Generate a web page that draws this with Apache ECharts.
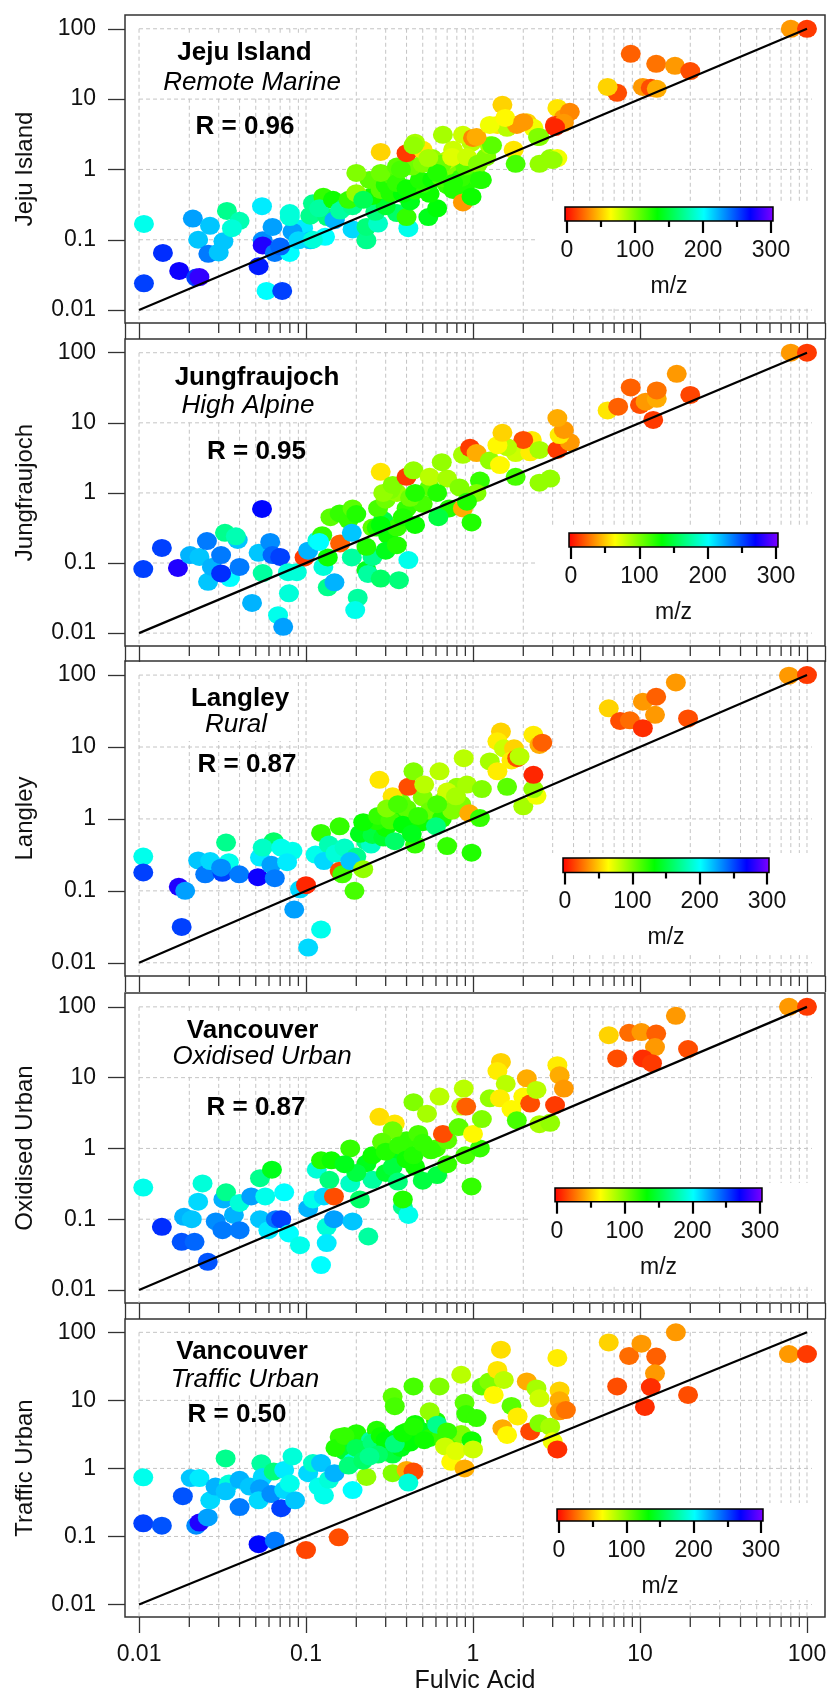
<!DOCTYPE html>
<html><head><meta charset="utf-8">
<script src="https://cdn.jsdelivr.net/npm/echarts@6/dist/echarts.min.js"></script>
<style>html,body{margin:0;padding:0;background:#fff}#chart{width:832px;height:1695px}</style>
</head><body><div id="chart"></div>
<script>
// ---------------- DATA: [Fulvic Acid, site value, m/z] ----------------
const jejuPoints = [
[0.0107,0.168,195],[0.0107,0.024,250],[0.0139,0.065,255],[0.0174,0.036,270],[0.022,0.029,250],[0.023,0.0295,280],
[0.021,0.2,225],[0.0266,0.158,215],[0.0226,0.1,215],[0.026,0.063,235],[0.03,0.066,215],[0.032,0.095,215],
[0.0336,0.257,170],[0.04,0.186,180],[0.036,0.146,190],[0.0545,0.30,205],[0.055,0.098,230],[0.055,0.083,275],
[0.052,0.042,260],[0.063,0.152,225],[0.065,0.065,235],[0.058,0.0187,200],[0.072,0.0187,250],[0.08,0.24,190],
[0.086,0.126,225],[0.08,0.065,200],[0.096,0.146,205],[0.106,0.098,215],[0.11,0.33,170],[0.13,0.11,200],
[0.149,0.2,215],[0.19,0.14,210],[0.23,0.098,170],[0.41,0.146,195],[0.127,0.41,120],
[0.083,0.13,225],[0.07,0.08,240],[0.09,0.098,210],[0.11,0.1,190],[0.08,0.21,190],
[0.106,0.22,170],[0.134,0.21,165],[0.148,0.19,220],[0.23,0.152,165],[0.27,0.17,185],[0.35,0.24,160],
[0.4,0.21,120],[0.54,0.21,140],[0.61,0.28,135],[0.12,0.28,175],[0.145,0.37,130],[0.17,0.29,160],
[0.16,0.26,175],[0.19,0.3,170],[0.26,0.25,165],[0.3,0.3,145],[0.42,0.35,140],[0.25,0.42,130],
[0.18,0.37,120],[0.2,0.46,95],[0.22,0.37,155],[0.24,0.71,110],[0.28,0.51,110],[0.32,0.46,125],
[0.38,0.45,135],[0.45,0.5,125],[0.55,0.45,130],[0.3,0.6,125],[0.33,0.8,115],[0.5,0.62,120],
[0.35,0.64,120],[0.4,0.54,130],[0.48,0.71,125],[0.57,0.71,130],[0.7,0.6,120],[0.76,0.51,125],
[0.65,0.75,115],[0.9,0.6,125],[0.8,0.95,100],
[0.87,0.34,40],[0.98,0.41,130],[1.13,0.71,125],[1.06,0.78,120],[0.85,0.76,120],[0.2,0.89,100],
[0.28,0.89,105],[0.43,1.1,105],[0.35,1.1,110],[0.61,0.98,115],[0.7,1.36,85],[0.57,1.45,95],
[0.5,1.2,100],[0.65,1.2,105],[0.9,1.1,110],[1.2,1.5,100],
[0.76,1.9,80],[0.98,2.4,85],[1.26,2.2,90],[0.61,0.89,125],[0.76,0.64,125],[0.37,1.0,115],
[0.28,1.77,55],[0.4,1.7,15],[0.5,1.9,60],[0.45,2.4,90],[0.66,3.1,90],[0.87,3.1,80],[1.0,2.8,35],
[0.44,2.2,95],[0.54,1.45,90],[0.75,1.5,75],[0.92,1.5,80],[1.07,1.2,100],[1.1,0.71,125],
[1.5,8.3,55],[1.4,4.3,60],[1.6,3.9,85],[1.83,4.3,40],[2.1,4.7,55],[2.3,3.9,70],[2.5,2.9,95],
[1.75,1.9,60],[1.8,1.2,115],[2.5,1.2,95],[2.9,1.45,95],[3.2,1.45,70],[1.3,2.2,110],[1.05,2.9,45],
[1.26,4.3,70],[1.56,5.4,65],[2.0,4.7,40],[2.45,2.9,100],[3.0,1.36,95],
[3.2,7.5,60],[3.5,5.4,40],[3.1,4.3,15],[3.8,6.6,35],[3.5,4.6,40],[3.1,4.0,10],
[7.3,12.3,20],[6.4,14.9,55],[8.8,44,25],[12.5,31.8,30],[16.2,29.7,40],[20,25,20],
[10.4,14.9,40],[11.6,14.5,20],[12.6,14,45],[80,100,40],[100,100,15]
];
const jungfraujochPoints = [
[0.0106,0.082,250],[0.0137,0.164,250],[0.0171,0.085,275],[0.0202,0.13,220],[0.023,0.122,215],[0.0255,0.206,235],
[0.0259,0.054,215],[0.0273,0.088,220],[0.031,0.13,235],[0.0327,0.27,170],[0.035,0.061,200],[0.031,0.071,255],
[0.039,0.213,215],[0.04,0.088,235],[0.038,0.24,180],[0.0475,0.027,220],[0.0545,0.59,265],[0.052,0.14,215],
[0.061,0.2,230],[0.063,0.13,240],[0.07,0.122,250],[0.055,0.072,175],[0.068,0.018,195],[0.073,0.0123,225],
[0.079,0.037,190],[0.078,0.074,190],[0.088,0.074,190],[0.098,0.12,15],[0.103,0.15,220],[0.117,0.21,190],
[0.125,0.25,120],[0.127,0.088,190],[0.135,0.045,170],[0.148,0.053,220],[0.135,0.12,130],[0.16,0.19,25],
[0.14,0.45,110],[0.159,0.51,120],[0.18,0.41,120],[0.19,0.6,110],[0.188,0.27,215],[0.188,0.12,175],
[0.204,0.032,175],[0.197,0.0213,195],[0.23,0.08,140],[0.235,0.07,175],[0.25,0.122,170],[0.23,0.17,125],
[0.12,0.2,200],[0.25,0.32,110],[0.265,0.32,125],[0.29,0.41,150],[0.31,0.25,130],[0.35,0.32,120],
[0.2,0.5,125],[0.27,0.6,115],[0.3,0.8,105],[0.4,0.6,120],[0.5,0.7,115],[0.55,1.2,110],[0.38,0.45,125],
[0.45,0.35,130],[0.3,0.15,140],[0.28,0.35,135],
[0.28,0.06,160],[0.36,0.057,165],[0.35,0.18,125],[0.41,0.11,195],[0.35,1.0,95],[0.32,1.1,100],
[0.28,2.0,60],[0.29,1.0,95],[0.33,1.3,100],[0.4,1.7,15],[0.42,0.85,105],[0.44,2.1,95],[0.45,1.0,125],
[0.55,1.7,85],[0.7,1.6,90],[0.83,1.2,100],[1.1,1.5,120],[1.05,1.0,100],[0.61,1.0,125],[0.72,0.6,125],
[0.87,0.6,45],[0.92,0.75,125],[0.98,0.38,125],[0.62,0.45,150],[0.65,2.75,95],[0.87,3.5,90],
[0.96,4.4,15],[1.05,3.7,45],[1.26,2.9,95],[1.45,2.5,65],[1.8,3.7,80],[2.2,3.8,62],[2.25,5.7,62],
[2.0,5.7,20],[1.6,4.5,85],[1.4,4.8,65],[1.5,7.2,55],[1.8,1.7,115],[2.5,1.4,95],[2.9,1.6,95],
[2.5,4.1,90],[3.2,4.1,15],[3.8,5.3,40],[3.3,6.7,62],[3.5,7.9,40],[3.2,11.7,45],
[6.4,15,60],[7.4,17,25],[10,18,20],[10.8,20,40],[12.6,22,45],[12,11,15],[8.8,32,25],[12.6,29,30],
[20,25,18],[16.6,50,40],[80,100,40],[100,100,15]
];
const langleyPoints = [
[0.0106,0.30,195],[0.0106,0.18,250],[0.0173,0.114,275],[0.0189,0.10,225],[0.018,0.0315,250],[0.0226,0.265,215],
[0.0249,0.17,235],[0.0267,0.26,210],[0.0316,0.178,250],[0.0332,0.47,170],[0.0345,0.25,195],[0.031,0.21,230],
[0.0398,0.17,235],[0.0515,0.155,270],[0.053,0.29,205],[0.062,0.23,225],[0.064,0.49,160],[0.055,0.40,185],
[0.065,0.15,235],[0.071,0.40,195],[0.083,0.36,195],[0.077,0.25,205],[0.092,0.105,210],[0.10,0.12,10],
[0.085,0.055,225],[0.123,0.029,195],[0.103,0.0163,210],[0.123,0.64,120],[0.114,0.32,195],[0.137,0.44,180],
[0.128,0.26,210],[0.15,0.33,190],[0.17,0.4,185],[0.2,0.3,170],[0.159,0.79,120],[0.159,0.19,20],
[0.165,0.17,115],[0.184,0.26,215],[0.195,0.10,115],[0.22,0.20,95],[0.229,0.49,170],[0.245,0.44,185],
[0.21,0.62,140],[0.25,0.6,150],[0.29,0.55,145],[0.3,0.75,130],[0.264,0.93,125],[0.35,1.2,125],
[0.22,0.9,130],[0.27,1.1,120],[0.32,0.95,115],[0.37,1.7,105],[0.42,0.95,125],[0.6,1.3,110],
[0.68,1.9,95],[0.85,1.6,100],[0.5,2.0,100],
[0.4,1.4,110],[0.5,0.9,130],[0.55,1.3,105],[0.65,1.0,125],[0.75,1.3,100],[0.8,2.8,95],
[0.275,3.5,60],[0.33,2.06,60],[0.305,1.4,100],[0.355,1.6,115],[0.41,2.8,20],[0.44,4.6,100],
[0.51,3.0,85],[0.34,0.49,160],[0.38,0.83,135],[0.47,1.1,120],[0.45,0.44,120],[0.43,0.62,140],
[0.60,0.79,165],[0.63,4.6,85],[0.70,2.4,80],[0.70,0.42,120],[0.61,1.6,115],[0.79,2.06,90],
[0.88,7.0,85],[0.92,3.0,90],[0.98,0.34,125],[0.95,1.2,45],[1.1,1.03,120],[1.13,2.6,100],
[1.26,6.3,90],[1.4,4.6,62],[1.47,16.4,55],[1.4,12,62],[1.53,9.6,80],[1.6,2.8,110],[1.76,9.6,55],
[1.7,6.5,62],[1.84,7.0,20],[1.9,7.4,85],[2.0,1.5,90],[2.4,2.1,70],[2.3,2.6,95],[2.3,4.1,10],
[2.3,14.8,62],[2.5,10.7,45],[2.6,11.5,25],
[6.5,34.5,55],[7.6,23,20],[8.7,23.5,28],[10.4,42.6,40],[12.5,50,25],[12.3,28,40],[10.4,18.3,12],
[16.4,79,40],[19.4,25,20],[78,98,40],[100,100,15]
];
const oxidisedUrbanPoints = [
[0.0106,0.28,195],[0.0137,0.078,255],[0.018,0.048,245],[0.0215,0.048,240],[0.0186,0.108,220],[0.0207,0.10,215],
[0.0226,0.177,210],[0.024,0.32,190],[0.0258,0.025,245],[0.0288,0.093,230],[0.032,0.19,220],[0.0332,0.24,170],
[0.0316,0.07,235],[0.037,0.115,220],[0.04,0.07,235],[0.04,0.17,190],[0.047,0.21,225],[0.053,0.38,170],
[0.0625,0.5,140],[0.057,0.21,195],[0.053,0.10,215],[0.0595,0.07,205],[0.066,0.1,235],[0.071,0.1,250],
[0.074,0.24,200],[0.079,0.063,200],[0.092,0.043,195],[0.103,0.142,220],[0.116,0.5,190],[0.11,0.19,195],
[0.123,0.0225,200],[0.133,0.078,190],[0.133,0.046,205],[0.128,0.21,210],[0.123,0.68,125],[0.147,0.21,20],
[0.147,0.1,225],[0.138,0.36,165],[0.142,0.68,130],[0.184,1.0,120],[0.19,0.093,215],[0.184,0.32,185],
[0.21,0.19,160],[0.236,0.057,175],[0.23,0.61,140],[0.25,0.36,175],[0.2,0.45,150],[0.17,0.6,140],
[0.25,0.8,130],[0.3,0.45,145],[0.45,0.55,130],[0.5,0.35,150],[0.35,0.7,140],[0.6,1.0,115],[0.7,1.3,110],[0.4,1.3,120],
[0.275,2.8,58],[0.34,2.25,60],[0.33,1.8,105],[0.285,1.24,110],[0.33,0.55,150],[0.355,0.34,165],
[0.38,0.15,170],[0.41,0.115,195],[0.38,0.19,125],[0.3,0.9,125],[0.36,1.1,120],[0.4,0.7,130],
[0.44,4.5,100],[0.47,1.6,115],[0.53,3.1,90],[0.44,0.8,125],[0.61,0.42,150],[0.63,5.4,85],
[0.56,0.94,120],[0.7,0.6,120],[0.5,1.2,120],[0.66,1.6,20],[0.88,7.0,85],[0.85,3.9,85],[0.91,3.9,25],
[0.82,2.0,110],[0.9,0.8,115],[0.98,0.29,120],[1.1,1.0,120],[1.0,1.6,65],[1.13,2.6,100],
[1.26,5.1,95],[1.47,16.7,55],[1.4,12.4,62],[1.57,8.2,85],[1.45,5.1,62],[1.7,3.6,65],[1.83,2.5,115],
[2.1,9.8,45],[2.0,5.4,65],[2.2,4.3,20],[2.4,6.7,85],[2.5,2.2,90],[2.9,2.3,95],[3.1,4.1,15],
[3.2,15,62],[3.3,10.8,45],[3.5,7.0,40],
[6.5,39.8,55],[7.3,18.7,20],[8.6,43,28],[10.2,44,40],[12.5,42,25],[12.3,27,40],[10.4,18.7,12],
[11.8,16,15],[16.4,74.6,40],[19.4,25.3,20],[78,100,40],[100,100,15]
];
const trafficUrbanPoints = [
[0.0106,0.74,195],[0.0106,0.156,250],[0.0137,0.144,245],[0.0183,0.39,245],[0.0204,0.72,215],[0.023,0.72,205],
[0.022,0.144,230],[0.023,0.16,275],[0.0258,0.19,225],[0.0267,0.34,210],[0.0287,0.54,220],[0.033,1.4,170],
[0.0345,0.6,190],[0.033,0.46,215],[0.04,0.68,220],[0.04,0.27,235],[0.046,0.54,215],[0.054,1.19,175],
[0.055,0.75,210],[0.053,0.51,225],[0.052,0.34,210],[0.062,0.42,230],[0.064,0.9,165],[0.071,0.26,250],
[0.074,0.95,205],[0.074,0.48,210],[0.083,1.5,190],[0.086,0.34,215],[0.08,0.6,195],[0.052,0.077,265],
[0.065,0.087,235],[0.1,0.063,18],[0.157,0.097,20],[0.103,0.85,210],[0.11,1.2,185],[0.119,0.54,195],
[0.128,0.4,195],[0.123,1.2,215],[0.137,0.68,190],[0.148,0.85,220],[0.159,2.9,120],[0.17,1.8,145],
[0.19,0.48,200],[0.19,1.25,190],[0.2,3.3,125],[0.23,2.1,150],[0.245,2.6,175],[0.265,3.7,125],
[0.23,0.75,95],[0.18,1.1,165],[0.15,2.0,125],[0.17,3.0,120],[0.2,2.0,155],[0.25,2.4,165],[0.22,1.3,160],
[0.3,2.0,140],[0.28,3.0,130],[0.35,2.8,150],[0.4,3.5,120],[0.45,4.5,130],[0.5,3.5,140],[0.6,5.0,125],
[0.3,2.6,135],[0.33,1.6,150],[0.37,2.0,140],[0.42,2.4,135],[0.27,1.6,160],[0.24,1.5,170],
[0.55,2.8,125],[0.65,3.0,120],[0.75,2.5,110],[0.85,3.2,100],
[0.33,11.4,110],[0.34,8.2,115],[0.33,0.85,100],[0.4,0.95,45],[0.44,0.9,20],[0.41,0.62,190],
[0.34,2.3,165],[0.38,3.3,130],[0.44,16,115],[0.44,4.1,125],[0.51,2.6,130],[0.55,6.9,95],[0.61,4.4,170],
[0.63,16,100],[0.7,3.5,120],[0.68,2.1,80],[0.74,1.25,65],[0.79,1.8,75],[0.85,23.8,85],[0.89,9.2,110],
[0.91,6.3,120],[0.98,2.6,130],[0.89,1.0,45],[1.0,1.9,80],[1.05,5.5,120],[1.13,16,110],[1.25,19,100],
[1.33,12,65],[1.4,28,60],[1.47,55.6,58],[1.53,20,85],[1.5,3.9,45],[1.6,3.1,65],[1.7,8.3,110],
[1.85,5.8,62],[2.1,19,45],[2.2,3.5,18],[2.4,15,90],[2.5,10.7,80],[2.5,4.6,100],[2.9,4.1,90],
[3.2,42,62],[3.0,2.5,70],[3.2,1.9,12],[3.3,14,55],[3.3,10,45],[3.3,6.9,40],[3.6,7.2,30],
[6.5,71,55],[7.3,16,20],[8.6,45,28],[10.2,68,40],[12.5,44,25],[12.3,25,40],[11.6,15.7,12],
[10.7,8,12],[16.4,100,40],[19.4,12,20],[78,48,40],[100,48,15]
];

const panelData = [jejuPoints, jungfraujochPoints, langleyPoints, oxidisedUrbanPoints, trafficUrbanPoints];
const yAxisNames = ['Jeju Island', 'Jungfraujoch', 'Langley', 'Oxidised Urban', 'Traffic Urban'];
const siteNames = ['Jeju Island', 'Jungfraujoch', 'Langley', 'Vancouver', 'Vancouver'];
const siteTypes = ['Remote Marine', 'High Alpine', 'Rural', 'Oxidised Urban', 'Traffic Urban'];
const rValues = ['0.96', '0.95', '0.87', '0.87', '0.50'];
const xAxisName = 'Fulvic Acid';
const majorTicks = [0.01, 0.1, 1, 10, 100];
const minorTicks = [0.02,0.03,0.04,0.05,0.06,0.07,0.08,0.09, 0.2,0.3,0.4,0.5,0.6,0.7,0.8,0.9,
                    2,3,4,5,6,7,8,9, 20,30,40,50,60,70,80,90];
const oneToOneLine = [[0.01, 0.01], [100, 100]];
const mzRange = [0, 300];
const mzLabelStep = 100;
const colorbarTitle = 'm/z';
const rainbowColors = ['#ff0000','#ff8000','#ffff00','#80ff00','#00ff00','#00ff80','#00ffff','#0080ff','#0000ff','#8000ff'];

// ---------------- LAYOUT ----------------
const FONT = "'Liberation Sans', Arial, Helvetica, sans-serif";
const panelTop = [15, 339, 661, 993, 1319];
const panelHeight = [308, 307, 315, 310, 298];
const plotLeft = 125, plotWidth = 700;
const xMin = 0.00824, xMax = 128.2, yMin = 0.00655, yMax = 157;
const cbLayout = [[567,207,204,14],[571,533,205,14],[565,858,202,14.5],[557,1188,203,13.7],[559,1509,202,12]];
const cbBackground = [[535,202,280,105],[538,527,277,103],[529,853,286,102],[529,1183,286,102],[524,1503,291,97]];
const titleBoxes = [[156,35,192,62],[166,360,182,61],[182,682,115,59],[164,1013,196,61],[163,1334,164,61]];
const textPos = [
  [[244.5,53],[252,83],[245,127]],
  [[257,378],[248,405.5],[256.5,452]],
  [[240,699],[236,725],[247,765]],
  [[252.6,1031],[262,1057],[256,1108]],
  [[242,1352],[245,1380],[237,1415]]
];

const GRID_COLOR = '#c4c4c4';
const isMajor = v => majorTicks.some(m => Math.abs(m - v) < 1e-9);
const fmt = v => String(Number(Number(v).toPrecision(2)));

const grids = [], xAxes = [], yAxes = [], series = [], graphics = [];
const scatterIdx = [];

for (let i = 0; i < 5; i++) {
  grids.push({left: plotLeft, top: panelTop[i], width: plotWidth, height: panelHeight[i],
    show: true, borderColor: '#333', borderWidth: 1.5, backgroundColor: 'transparent', outerBoundsMode: 'none'});
  xAxes.push({type: 'log', logBase: 10, gridIndex: i, min: xMin, max: xMax,
    axisLine: {show: false},
    axisTick: {show: true, inside: false, length: 16, lineStyle: {color: '#333', width: 1.3}},
    axisLabel: {show: i === 4, fontSize: 23, color: '#111', fontFamily: FONT, margin: 26, formatter: fmt},
    splitLine: {show: false},
    name: i === 4 ? xAxisName : '', nameLocation: 'middle', nameGap: 52,
    nameTextStyle: {fontSize: 25, color: '#111', fontFamily: FONT}});
  yAxes.push({type: 'log', logBase: 10, gridIndex: i, min: yMin, max: yMax,
    axisLine: {show: false},
    axisTick: {show: true, inside: false, length: 17, lineStyle: {color: '#333', width: 1.3}},
    axisLabel: {fontSize: 23, color: '#111', fontFamily: FONT, margin: 29, formatter: fmt},
    splitLine: {show: false},
    name: yAxisNames[i], nameLocation: 'middle', nameGap: 88, nameRotate: 90,
    nameTextStyle: {fontSize: 24, color: '#111', fontFamily: FONT}});
}
for (let i = 0; i < 5; i++) {
  const c = cbLayout[i];
  grids.push({left: c[0], top: c[1], width: c[2], height: c[3], show: false, outerBoundsMode: 'none'});
  xAxes.push({type: 'value', gridIndex: 5 + i, min: mzRange[0], max: mzRange[1], interval: mzLabelStep, z: 7,
    axisLine: {show: false},
    axisTick: {show: true, length: 12, lineStyle: {color: '#000', width: 2.2}},
    minorTick: {show: true, splitNumber: 2, length: 6, lineStyle: {color: '#000', width: 2.2}},
    axisLabel: {fontSize: 23, color: '#111', fontFamily: FONT, margin: 18},
    splitLine: {show: false}, minorSplitLine: {show: false},
    name: colorbarTitle, nameLocation: 'middle', nameGap: 54,
    nameTextStyle: {fontSize: 23, color: '#111', fontFamily: FONT}});
  yAxes.push({type: 'value', gridIndex: 5 + i, min: 0, max: 1, show: false});
}

for (let i = 0; i < 5; i++) {
  // vertical grid lines (from y=100 down to box bottom) + minor ticks
  series.push({type: 'custom', xAxisIndex: i, yAxisIndex: i, z: 1, silent: true, clip: false,
    data: majorTicks.concat(minorTicks).map(v => [v, 1]),
    renderItem: (params, api) => {
      const cs = params.coordSys;
      const v = api.value(0);
      const top = api.coord([v, 100]);
      const bottom = cs.y + cs.height;
      const children = [{type: 'line', shape: {x1: top[0], y1: top[1], x2: top[0], y2: bottom},
        style: {stroke: GRID_COLOR, lineWidth: 1, lineDash: [4, 3]}}];
      if (!isMajor(v)) children.push({type: 'line', shape: {x1: top[0], y1: bottom, x2: top[0], y2: bottom + 10},
        style: {stroke: '#333', lineWidth: 1.3}});
      return {type: 'group', children};
    }});
  // horizontal grid lines
  series.push({type: 'custom', xAxisIndex: i, yAxisIndex: i, z: 1, silent: true,
    data: majorTicks.map(v => [1, v]),
    renderItem: (params, api) => {
      const v = api.value(1);
      const a = api.coord([0.01, v]);
      const b = api.coord([100, v]);
      return {type: 'line', shape: {x1: a[0], y1: a[1], x2: b[0] + 5, y2: b[1]},
        style: {stroke: GRID_COLOR, lineWidth: 1, lineDash: [4, 3]}};
    }});
  scatterIdx.push(series.length);
  series.push({type: 'scatter', xAxisIndex: i, yAxisIndex: i, z: 3, data: panelData[i],
    symbol: 'circle', symbolSize: [20, 18], itemStyle: {opacity: 1}, emphasis: {disabled: true}});
  series.push({type: 'line', xAxisIndex: i, yAxisIndex: i, z: 4, data: oneToOneLine, symbol: 'none',
    lineStyle: {color: '#000', width: 2.2}, silent: true});
  // colorbar
  series.push({type: 'custom', xAxisIndex: 5 + i, yAxisIndex: 5 + i, z: 5, silent: true,
    data: [[mzRange[0], 0, mzRange[1], 1]],
    renderItem: (params, api) => {
      const p0 = api.coord([api.value(0), api.value(1)]);
      const p1 = api.coord([api.value(2), api.value(3)]);
      const stops = rainbowColors.map((c, k) => ({offset: k / (rainbowColors.length - 1), color: c}));
      return {type: 'rect', shape: {x: p0[0] - 2, y: p1[1], width: p1[0] - p0[0] + 4, height: p0[1] - p1[1]},
        style: {fill: new echarts.graphic.LinearGradient(0, 0, 1, 0, stops), stroke: '#000', lineWidth: 1.5}};
    }});

  const bg = cbBackground[i];
  graphics.push({type: 'rect', z: 2, silent: true, shape: {x: bg[0], y: bg[1], width: bg[2], height: bg[3]}, style: {fill: '#fff'}});
  const tb = titleBoxes[i];
  graphics.push({type: 'rect', z: 2, silent: true, shape: {x: tb[0], y: tb[1], width: tb[2], height: tb[3]}, style: {fill: '#fff'}});
  const tp = textPos[i];
  const texts = [[siteNames[i], 'bold 26px ' + FONT], [siteTypes[i], 'italic 26px ' + FONT], ['R = ' + rValues[i], 'bold 26px ' + FONT]];
  texts.forEach((t, k) => graphics.push({type: 'text', z: 6, silent: true, x: tp[k][0], y: tp[k][1],
    style: {text: t[0], font: t[1], fill: '#000', align: 'center', verticalAlign: 'middle'}}));
}

const chart = echarts.init(document.getElementById('chart'), null, {renderer: 'canvas'});
chart.setOption({
  animation: false,
  backgroundColor: '#fff',
  grid: grids, xAxis: xAxes, yAxis: yAxes,
  visualMap: [{type: 'continuous', show: false, min: mzRange[0], max: mzRange[1], dimension: 2,
    seriesIndex: scatterIdx, inRange: {color: rainbowColors}}],
  series: series,
  graphic: {elements: graphics}
});
</script></body></html>
